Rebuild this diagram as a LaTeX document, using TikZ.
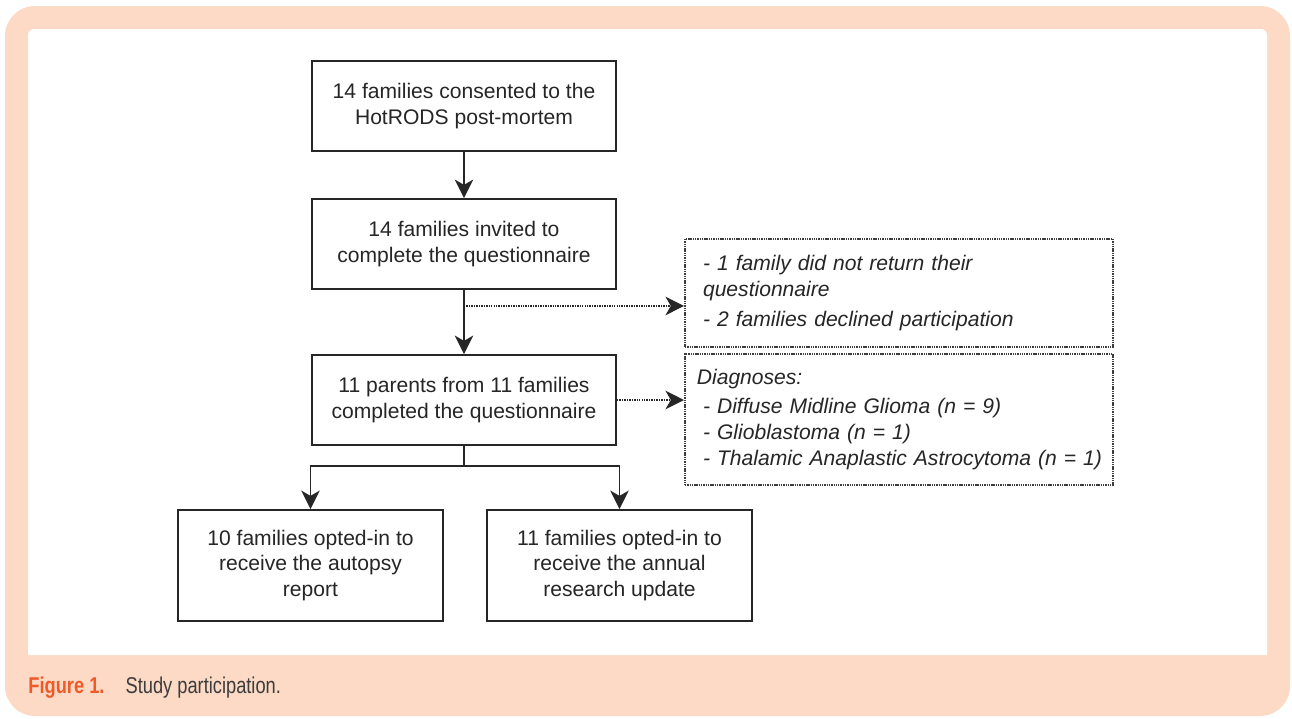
\documentclass[tikz,border=0pt]{standalone}
\usepackage{fontspec}
\setmainfont{Liberation Sans}
\newfontfamily\capfont[FakeStretch=0.8]{Liberation Sans}
\usetikzlibrary{arrows.meta}
\definecolor{peach}{HTML}{FDDAC5}
\definecolor{figred}{HTML}{F05A28}
\definecolor{ink}{HTML}{262626}

\begin{document}
\begin{tikzpicture}[x=0.02cm,y=-0.02cm,color=ink,
  main box/.style={rectangle,draw,line width=1.1pt,align=center,inner sep=0pt,
    minimum width=6.08cm,minimum height=1.8cm,font=\fontsize{12}{14.7}\selectfont},
  small box/.style={main box,minimum width=5.3cm,minimum height=2.22cm},
  note box/.style={rectangle,draw=ink!90,line width=1.2pt,dash pattern=on 0.8pt off 0.5pt,
    align=left,text width=7.84cm,inner xsep=0.36cm,inner ysep=0pt,
    font=\fontsize{12}{14.7}\selectfont\itshape},
  solid arrow/.style={-{Stealth[length=10.5pt,width=10.5pt,inset=3pt]},line width=1.1pt},
  dot arrow/.style={-{Stealth[length=10.5pt,width=10.5pt,inset=3pt]},line width=1.2pt,
    dash pattern=on 0.8pt off 0.6pt}]

  \useasboundingbox (0,0) rectangle (1292,718);
  \fill[peach,rounded corners=17pt] (5,6) rectangle (1290,716);
  \fill[white] (28,655) [rounded corners=3.5pt] -- (28,29) -- (1267,29) [sharp corners] -- (1267,655) -- cycle;

  \node[main box] (1) at (464,106) {14 families consented to the\\HotRODS post-mortem};
  \node[main box] (2) at (464,244) {14 families invited to\\complete the questionnaire};
  \node[main box] (3) at (464,400) {11 parents from 11 families\\completed the questionnaire};
  \node[small box] (4) at (310.5,565.5) {10 families opted-in to\\receive the autopsy\\report};
  \node[small box] (5) at (619.5,565.5) {11 families opted-in to\\receive the annual\\research update};

  \node[note box,minimum height=2.16cm] (6) at (899,293)
    {- 1 family did not return their\\questionnaire\\[2pt]- 2 families declined participation};
  \node[note box,minimum height=2.62cm] (7) at (899,419.5)
    {\hspace*{-3.5pt}Diagnoses:\\[1.7pt]- Diffuse Midline Glioma (n = 9)\\- Glioblastoma (n = 1)\\\mbox{- Thalamic Anaplastic Astrocytoma (n = 1)}};

  \draw[solid arrow] (1) -- (2);
  \draw[solid arrow] (2) -- (3);
  \path (2.south) ++(0,16) coordinate (split);
  \draw[dot arrow] (split) -- (split -| 6.west);
  \draw[dot arrow] (3.east) -- (3.east -| 7.west);

  \draw[line width=1.1pt] (3.south) -- ++(0,20) coordinate (fork);
  \draw[solid arrow] (fork) -| (4.north);
  \draw[solid arrow] (fork) -| (5.north);

  \node[anchor=base west,inner sep=0pt,font=\capfont\fontsize{13}{15}\selectfont] (cap) at (28,693)
    {\textcolor{figred}{\bfseries Figure 1.}\hspace{12pt}\textcolor{ink!90}{Study participation.}};
\end{tikzpicture}
\end{document}
